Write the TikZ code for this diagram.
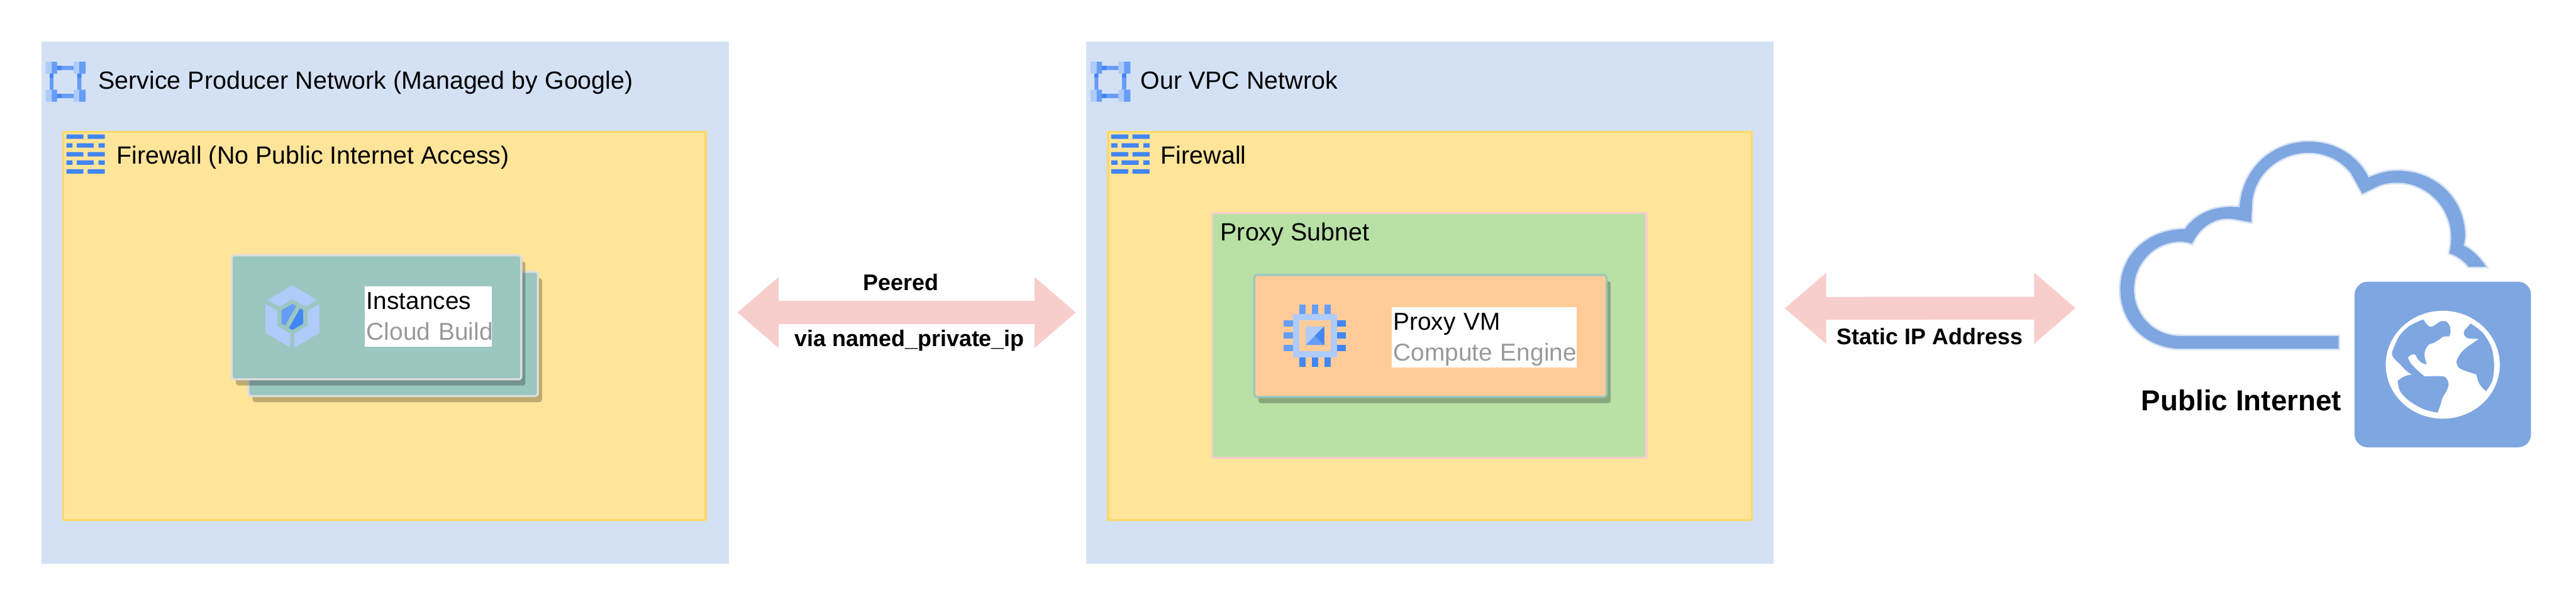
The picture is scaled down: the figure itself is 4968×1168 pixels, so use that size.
\documentclass[tikz,border=0pt]{standalone}
\usepackage{fontspec}
\setmainfont{Liberation Sans}
\usetikzlibrary{arrows.meta,shadows}
\definecolor{netblue}{HTML}{D4E1F5}
\definecolor{wallfill}{HTML}{FFE599}
\definecolor{wallline}{HTML}{FFD966}
\definecolor{subfill}{HTML}{B9E0A5}
\definecolor{subline}{HTML}{F8CECC}
\definecolor{tealfill}{HTML}{9CC6C0}
\definecolor{tealline}{HTML}{9AC7BF}
\definecolor{cardline}{HTML}{DDDDDD}
\definecolor{vmfill}{HTML}{FFCC99}
\definecolor{icolight}{HTML}{AECBFA}
\definecolor{icomid}{HTML}{669DF6}
\definecolor{icodark}{HTML}{4285F4}
\definecolor{webblue}{HTML}{7EA6E0}
\definecolor{muted}{HTML}{999999}
\newcommand{\svctext}[2]{#1\\{\color{muted}\smash{#2}}}
\begin{document}
\begin{tikzpicture}[x=0.01cm,y=-0.01cm,
    panel/.style={rectangle,anchor=north west,inner sep=0pt,outer sep=0pt},
    netbox/.style={panel,fill=netblue,minimum width=13.25cm,minimum height=10.06cm},
    wallbox/.style={panel,fill=wallfill,draw=wallline,line width=0.04cm,minimum height=7.48cm},
    subbox/.style={panel,fill=subfill,draw=subline,line width=0.04cm,minimum width=8.37cm,minimum height=4.71cm},
    card/.style={panel,rounded corners=0.05cm,line width=0.04cm,drop shadow={shadow xshift=0.08cm,shadow yshift=-0.12cm,fill=black,opacity=0.25}},
    svc/.style={panel,fill=white,align=left,inner xsep=0.03cm,minimum height=1.16cm,font=\fontsize{13.4}{17}\selectfont},
    lbl/.style={anchor=base west,inner sep=0pt,font=\fontsize{13.6}{16}\selectfont},
    arrlbl/.style={anchor=base,inner sep=0pt,font=\fontsize{12.4}{15}\selectfont\bfseries},
    arr/.style={{Triangle[length=0.8cm,width=1.32cm]}-{Triangle[length=0.8cm,width=1.32cm]},line width=0.44cm,draw=subline}]
    \useasboundingbox (0,0) rectangle (4968,1168);
    \node[netbox] (prod) at (80,80) {};
    \node[netbox] (vpc) at (2095,80) {};
    \node[wallbox,minimum width=12.38cm] (wallprod) at (122,254) {};
    \node[wallbox,minimum width=12.41cm] (wallvpc) at (2137,254) {};
    \foreach \dx in {0,2015} {
        \begin{scope}[shift={(\dx,0)}]
            \fill[icolight] (88,119) rectangle (110,142) (142,119) rectangle (165,142) (88,173) rectangle (110,196) (142,173) rectangle (165,196);
            \fill[icomid] (100,119) rectangle (110,142) (153,119) rectangle (165,142) (100,173) rectangle (110,196) (153,173) rectangle (165,196);
            \fill[icomid] (110,127) rectangle (142,135) (110,181) rectangle (142,189) (96,142) rectangle (103,173) (149,142) rectangle (157,173);
            \fill[icodark] (110,127) rectangle (119,135) (110,181) rectangle (119,189) (96,142) rectangle (103,150) (149,142) rectangle (157,150);
            \foreach \ya in {259,293,326} {
                \fill[icodark] (128,\ya) rectangle ++(33,8.5) (169,\ya) rectangle ++(33,8.5);
            }
            \foreach \ya in {276,309} {
                \fill[icodark] (128,\ya) rectangle ++(12,8.5) (148,\ya) rectangle ++(33,8.5) (190,\ya) rectangle ++(12,8.5);
            }
        \end{scope}
    }
    \node[lbl] (prodtitle) at (189,172) {Service Producer Network (Managed by Google)};
    \node[lbl] (vpctitle) at (2199,172) {Our VPC Netwrok};
    \node[lbl] (wallprodtitle) at (224,316) {Firewall (No Public Internet Access)};
    \node[lbl] (wallvpctitle) at (2238,316) {Firewall};
    \node[card,fill=tealfill,draw=cardline,minimum width=5.58cm,minimum height=2.39cm] (instback) at (479,524) {};
    \node[card,fill=tealfill,draw=cardline,minimum width=5.58cm,minimum height=2.39cm] (inst) at (447,492) {};
    \begin{scope}[shift={(400,460)},xscale=0.4464,yscale=0.3333]
        \fill[icolight] (367,270) -- (474,354) -- (424,394) -- (367,350) -- (311,394) -- (260,354) -- cycle;
        \fill[icolight] (251,377) -- (302,417) -- (302,503) -- (358,549) -- (358,630) -- (251,545) -- cycle;
        \fill[icolight] (484,377) -- (433,417) -- (433,503) -- (376,549) -- (376,630) -- (484,545) -- cycle;
        \fill[icomid] (367,378) -- (384,390) -- (336,503) -- (320,491) -- (320,414) -- cycle;
        \fill[icodark] (400,404) -- (414,414) -- (414,491) -- (368,528) -- (352,517) -- cycle;
    \end{scope}
    \node[svc,text width=2.38cm] (instlbl) at (704,552) {\svctext{Instances}{Cloud Build}};
    \node[subbox] (subnet) at (2338,411) {};
    \node[lbl] (subnettitle) at (2353,464) {Proxy Subnet};
    \node[card,fill=vmfill,draw=tealline,minimum width=6.79cm,minimum height=2.35cm] (vm) at (2419,530) {};
    \fill[icolight] (2494,605) rectangle (2578,689);
    \fill[vmfill] (2506,617) rectangle (2566,677);
    \foreach \xa in {2506,2530,2554} {
        \fill[icomid] (\xa,587) rectangle ++(12,18);
        \fill[icodark] (\xa,689) rectangle ++(12,18);
    }
    \foreach \ya in {617,641,665} {
        \fill[icomid] (2476,\ya) rectangle ++(18,12);
        \fill[icodark] (2578,\ya) rectangle ++(18,12);
    }
    \fill[icolight] (2518,629) rectangle (2554,665);
    \fill[icomid] (2554,629) -- (2554,665) -- (2518,665) -- cycle;
    \fill[icodark] (2554,629) -- (2554,665) -- (2536,647) -- cycle;
    \node[svc,text width=3.5cm] (vmlbl) at (2684,592) {\svctext{Proxy VM}{Compute Engine}};
    \coordinate (inet) at (4003,594);
    \draw[arr,shorten <=0.16cm,shorten >=0.2cm] ([yshift=-0.19cm]prod.east) -- ([yshift=-0.19cm]vpc.west);
    \draw[arr,shorten <=0.21cm] ([yshift=-0.11cm]vpc.east) -- (inet);
    \node[arrlbl] (peered) at (1738,560) {Peered};
    \node[arrlbl] (viaip) at (1754,668) {via named\_private\_ip};
    \node[arrlbl] (staticip) at (3722,664) {Static IP Address};
    \begin{scope}[shift={(4040,240)},xscale=0.5612,yscale=0.4209]
        \filldraw[fill=webblue,draw=netblue,line width=0.03cm] (840,1030) -- (280,1030) .. controls (160,1015) and (85,900) .. (85,755) .. controls (85,590) and (180,478) .. (308,475) .. controls (345,405) and (410,365) .. (495,375) .. controls (505,200) and (605,75) .. (735,75) .. controls (830,75) and (905,140) .. (942,238) .. controls (975,218) and (1005,208) .. (1040,208) .. controls (1175,208) and (1275,340) .. (1275,510) .. controls (1275,525) and (1273,540) .. (1270,552) .. controls (1305,575) and (1330,615) .. (1350,655) -- (1283,655) .. controls (1265,625) and (1245,605) .. (1215,592) .. controls (1220,565) and (1222,540) .. (1222,515) .. controls (1222,385) and (1140,270) .. (1040,270) .. controls (1015,270) and (990,275) .. (975,285) -- (918,322) -- (878,225) .. controls (845,170) and (795,133) .. (735,133) .. controls (635,133) and (550,230) .. (543,360) -- (540,452) -- (470,435) .. controls (410,430) and (365,470) .. (335,550) .. controls (320,542) and (305,540) .. (295,540) .. controls (205,540) and (137,640) .. (137,755) .. controls (137,870) and (205,965) .. (295,965) -- (840,965) -- cycle;
    \end{scope}
    \node[panel,fill=webblue,rounded corners=0.25cm,minimum width=3.4cm,minimum height=3.19cm] (websq) at (4541,543) {};
    \fill[white] (4711,703) ellipse [x radius=110,y radius=104];
    \begin{scope}[shift={(4590,580)},scale=0.3333]
        \fill[webblue] plot[smooth,tension=0.5] coordinates {(250,107) (275,140) (295,150) (325,135) (350,118) (385,120) (405,150) (408,180) (400,205)}
            -- plot[smooth,tension=0.5] coordinates {(400,205) (365,207) (340,225) (310,243) (280,255) (260,290) (258,320) (270,368)}
            -- plot[smooth,tension=0.5] coordinates {(270,368) (240,357) (218,335) (205,312) (185,310) (163,328) (178,360) (210,395) (258,437)}
            -- plot[smooth,tension=0.5] coordinates {(258,437) (370,437) (397,480) (385,520) (362,560) (350,600) (333,647)}
            -- plot[smooth,tension=0.5] coordinates {(333,647) (250,625) (165,575) (115,520) (102,462)}
            -- plot[smooth,tension=0.5] coordinates {(102,462) (130,442) (160,430) (185,427)}
            -- plot[smooth,tension=0.5] coordinates {(185,427) (150,402) (115,365) (90,342) (72,318) (70,295)}
            -- plot[smooth,tension=0.5] coordinates {(70,295) (110,205) (170,145) (250,107)} -- cycle;
        \fill[webblue] plot[smooth,tension=0.5] coordinates {(525,131) (490,170) (485,190) (505,215) (572,220)}
            -- plot[smooth,tension=0.5] coordinates {(572,220) (500,270) (465,305) (443,350) (455,385) (495,405) (557,425)}
            -- plot[smooth,tension=0.5] coordinates {(557,425) (570,470) (590,500) (614,522)}
            -- plot[smooth,tension=0.5] coordinates {(614,522) (650,460) (660,370) (645,270) (595,185) (525,131)} -- cycle;
    \end{scope}
    \node[anchor=base west,inner sep=0pt,font=\fontsize{15.8}{19}\selectfont\bfseries] (publbl) at (4129,791) {Public Internet};
\end{tikzpicture}
\end{document}
